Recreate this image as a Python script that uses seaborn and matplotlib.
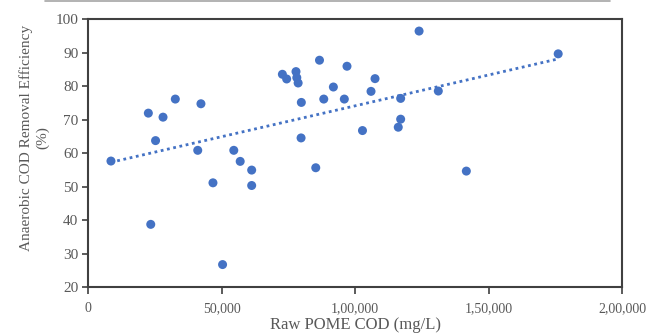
#! /usr/bin/env python3
'''
Scatter of anaerobic COD removal efficiency vs raw POME COD, with linear trendline
'''

# imports
import matplotlib
matplotlib.use('Agg')
import matplotlib.pyplot as plt
from matplotlib.lines import Line2D
from matplotlib.ticker import FuncFormatter, MultipleLocator
import seaborn as sns

# data
raw_cod = [8600, 22600, 28100, 32700, 25300, 42300, 41100, 54600, 57000, 61300,
           46800, 61300, 23500, 50400, 85300, 72800, 74400, 77900, 78200, 78700,
           79900, 79800, 86700, 88300, 91900, 97000, 96000, 102800, 107500, 106000,
           124000, 176100, 131200, 117100, 117100, 116200, 141700]
removal = [57.6, 71.9, 70.7, 76.1, 63.7, 74.7, 60.8, 60.8, 57.5, 54.9,
           51.1, 50.3, 38.7, 26.7, 55.6, 83.5, 82.1, 84.3, 82.5, 80.9,
           75.1, 64.5, 87.7, 76.1, 79.7, 85.9, 76.1, 66.7, 82.2, 78.4,
           96.4, 89.6, 78.5, 76.3, 70.1, 67.7, 54.6]

# constants
BLUE = '#4472C4'
GREY = '#595959'
SPINE = '#404040'

# indian style digit grouping: 1,00,000
def indian_fmt(v, pos=None):
    s = '%d' % int(round(v))
    if len(s) <= 3:
        return s
    head, tail = s[:-3], s[-3:]
    groups = []
    while len(head) > 2:
        groups.insert(0, head[-2:]); head = head[:-2]
    if head:
        groups.insert(0, head)
    return ','.join(groups + [tail])

# main program
if __name__ == "__main__":
    sns.set_style('white')
    plt.rcParams['font.family'] = ['Liberation Serif', 'DejaVu Serif']

    fig = plt.figure(figsize=(6.49, 3.34), dpi=100)
    ax = fig.add_axes([0.1356, 0.1407, 0.8228, 0.8024])

    sns.regplot(x=raw_cod, y=removal, ax=ax, ci=None, color=BLUE,
                scatter_kws=dict(s=42, alpha=1, edgecolor='none', zorder=3),
                line_kws=dict(ls=(0, (1, 1.3)), lw=2, zorder=2))

    ax.set_xlim(0, 200000)
    ax.set_ylim(20, 100)
    ax.xaxis.set_major_locator(MultipleLocator(50000))
    ax.yaxis.set_major_locator(MultipleLocator(10))
    ax.xaxis.set_major_formatter(FuncFormatter(indian_fmt))

    for sp in ax.spines.values():
        sp.set_visible(True)
        sp.set_color(SPINE)
        sp.set_linewidth(1.5)
    ax.tick_params(axis='x', direction='out', length=5, width=1.2, color=SPINE,
                   labelsize=10, labelcolor=GREY, pad=6, bottom=True)
    ax.tick_params(axis='y', direction='out', length=4, width=1.2, color=SPINE,
                   labelsize=11, labelcolor=GREY, pad=3, left=True)

    ax.set_xlabel('Raw POME COD (mg/L)', fontsize=12, color=GREY, labelpad=1)
    ax.set_ylabel('Anaerobic COD Removal Efficiency\n(%)', fontsize=11, color=GREY,
                  linespacing=1.25)
    ax.yaxis.set_label_coords(-0.073, 0.556)

    # thin grey rule along the very top of the picture
    fig.add_artist(Line2D([45 / 649, 610 / 649], [0.998, 0.998], color='#A6A6A6', lw=1.2))

    fig.savefig('out.png', dpi=100)
